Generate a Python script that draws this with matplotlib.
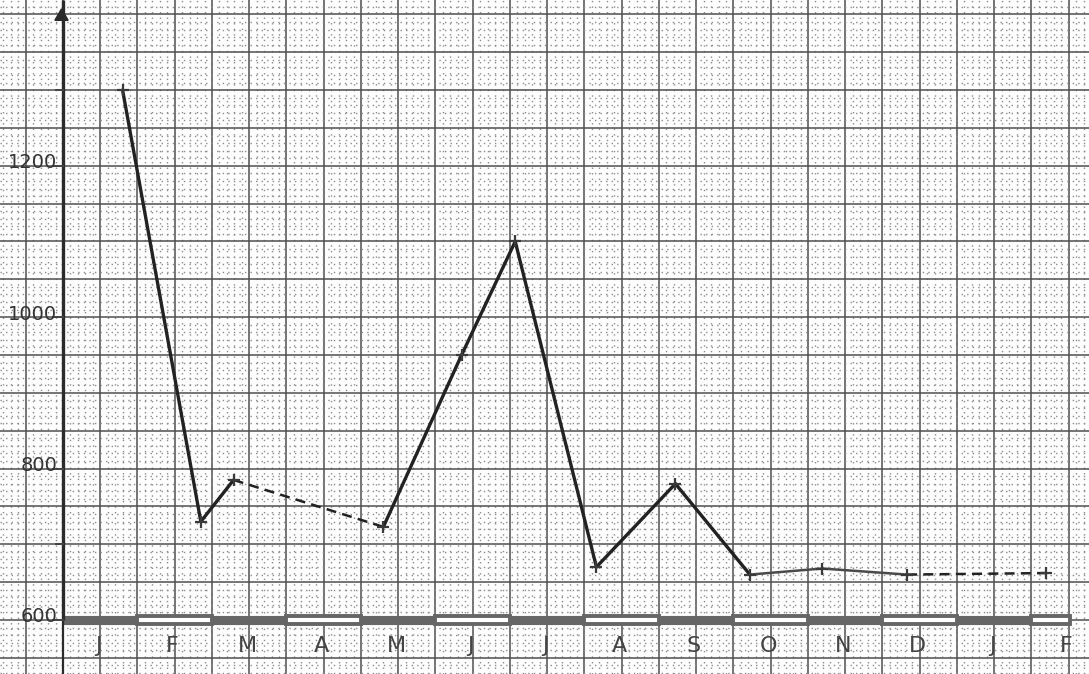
import matplotlib
matplotlib.use("Agg")
import matplotlib.pyplot as plt
from matplotlib.ticker import MultipleLocator

# Month letters along the time axis (Jan of year 1 through Feb of year 2)
month_letters = ['J', 'F', 'M', 'A', 'M', 'J', 'J', 'A', 'S', 'O', 'N', 'D', 'J', 'F']

# Readings: position in months from the start of January, and value
reading_month = [0.80, 1.85, 2.29, 4.30, 5.35, 6.07, 7.16, 8.22, 9.22, 10.19, 11.33, 13.19]
reading_value = [1300, 730, 785, 723, 950, 1100, 670, 780, 660, 668, 660, 662]

# How each consecutive pair of readings is joined
link_style = ['solid', 'solid', 'dashed', 'solid', 'solid', 'solid', 'solid',
              'solid', 'solid', 'solid', 'dashed']

y_labels = [600, 800, 1000, 1200]
y_ticks_unlabelled = [700, 1300]

fig = plt.figure(figsize=(10.89, 6.74), dpi=100)
fig.patch.set_facecolor('white')
ax = fig.add_axes([0, 0, 1, 1])
ax.set_facecolor('#fdfdfd')

px_per_month = 74.5
px_per_unit = 0.757
x0_px, y0_px = 63, 620
W, H = 1089, 674
ax.set_xlim(-x0_px / px_per_month, (W - x0_px) / px_per_month)
ax.set_ylim(600 - (H - y0_px) / px_per_unit, 600 + y0_px / px_per_unit)

# graph paper
ax.xaxis.set_major_locator(MultipleLocator(0.5))
ax.xaxis.set_minor_locator(MultipleLocator(0.1))
ax.yaxis.set_major_locator(MultipleLocator(50))
ax.yaxis.set_minor_locator(MultipleLocator(10))
ax.grid(which='minor', color='#8c8c8c', linestyle=(0, (1.0, 3.0)), linewidth=1.0, zorder=0)
ax.grid(which='major', color='#4f4f4f', linestyle='-', linewidth=1.1, zorder=0.5)
ax.tick_params(which='both', length=0, labelbottom=False, labelleft=False)
for s in ax.spines.values():
    s.set_visible(False)

# month band along the bottom of the chart
band_half = 5
for i, letter in enumerate(month_letters):
    width = 1.0 if i < len(month_letters) - 1 else 0.52
    if i % 2 == 0:
        ax.bar(i, 2 * band_half, bottom=600 - band_half, width=width, align='edge',
               color='#666666', edgecolor='#666666', linewidth=0.8, zorder=3)
    else:
        ax.bar(i, 2 * band_half, bottom=600 - band_half, width=width, align='edge',
               color='white', edgecolor='#666666', linewidth=2.8, zorder=3)
    ax.text(i + 0.47, 566, letter, ha='center', va='center', fontsize=16,
            color='#444444', zorder=4)

# vertical axis with arrow head
ax.plot([0, 0], [600, ax.get_ylim()[1]], color='#2b2b2b', lw=2.4, zorder=4,
        solid_capstyle='butt')
ax.plot([0, 0], [ax.get_ylim()[0], 600], color='#2b2b2b', lw=1.6, zorder=4)
ax.plot(-0.03, 1398, marker=(3, 0, 0), markersize=11, color='#2b2b2b', zorder=4)

for v in y_labels:
    ax.plot([-0.13, 0], [v, v], color='#444444', lw=1.4, zorder=4)
    ax.text(-0.08, v + 4, str(v), ha='right', va='center', fontsize=14,
            color='#333333', zorder=4)
for v in y_ticks_unlabelled:
    ax.plot([-0.1, 0], [v, v], color='#444444', lw=1.4, zorder=4)

# the series
for k, style in enumerate(link_style):
    xs = reading_month[k:k + 2]
    ys = reading_value[k:k + 2]
    faint = k >= 8 and style == 'solid'
    ax.plot(xs, ys, color='#4a4a4a' if faint else '#222222',
            lw=1.8 if (faint or style == 'dashed') else 2.4,
            linestyle=(0, (4, 2.5)) if style == 'dashed' else '-',
            solid_capstyle='round', zorder=5)
ax.plot(reading_month, reading_value, linestyle='none', marker='+', markersize=9,
        mew=1.6, color='#3a3a3a', zorder=6)

fig.savefig('out.png', dpi=100, facecolor='white')
